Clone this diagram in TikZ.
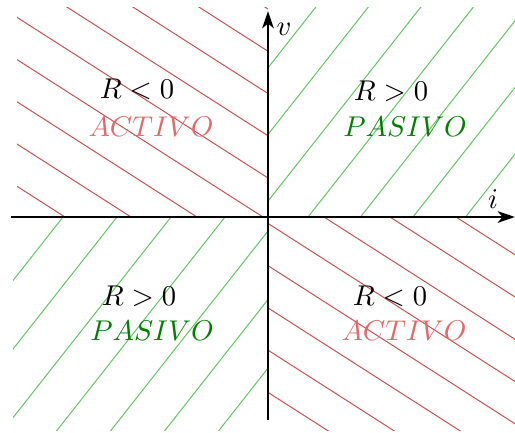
\documentclass[tikz,border=0pt]{standalone}
\usetikzlibrary{arrows.meta}
\definecolor{hatchred}{RGB}{205,80,80}
\definecolor{hatchgreen}{RGB}{95,200,95}
\definecolor{activored}{RGB}{228,105,105}
\definecolor{pasivogreen}{RGB}{0,128,0}
\tikzset{
  axisline/.style={line width=1pt,-{Stealth[length=6pt,width=4pt,inset=1.6pt]}},
  redhatch/.style={hatchred,line width=0.35pt},
  greenhatch/.style={hatchgreen,line width=0.35pt},
  rlabel/.style={anchor=base,inner sep=0pt,font=\fontsize{10.2}{12}\selectfont},
  activo/.style={anchor=base,inner sep=0pt,text=activored,font=\fontsize{10.3}{12}\selectfont},
  pasivo/.style={anchor=base,inner sep=0pt,text=pasivogreen,font=\fontsize{10.3}{12}\selectfont},
  axlabel/.style={inner sep=0pt,font=\fontsize{10}{12}\selectfont}
}
\begin{document}
\begin{tikzpicture}[x=0.35pt,y=-0.35pt]
\useasboundingbox (0,0) rectangle (515,432);
% top-left: red
\begin{scope}
  \clip (17,7) rectangle (268,217);
  \foreach \k in {-8,...,8}{
    \draw[redhatch] ({263+66*\k-400},{217-256}) -- ({263+66*\k+400},{217+256});
  }
\end{scope}
% bottom-right: red
\begin{scope}
  \clip (268,217) rectangle (515,430);
  \foreach \k in {-8,...,8}{
    \draw[redhatch] ({258+66*\k-400},{217-256}) -- ({258+66*\k+400},{217+256});
  }
\end{scope}
% top-right: green
\begin{scope}
  \clip (268,7) rectangle (515,217);
  \foreach \k in {-10,...,10}{
    \draw[greenhatch] ({308+52.5*\k-300},{217+381}) -- ({308+52.5*\k+300},{217-381});
  }
\end{scope}
% bottom-left: green
\begin{scope}
  \clip (13,217) rectangle (268,430);
  \foreach \k in {-10,...,10}{
    \draw[greenhatch] ({63+54*\k-300},{217+381}) -- ({63+54*\k+300},{217-381});
  }
\end{scope}
% axes
\coordinate (xs) at (11,217);
\coordinate (xe) at (515,217);
\coordinate (ys) at (268,420);
\coordinate (ye) at (268,11);
\draw[axisline] (xs) -- (xe);
\draw[axisline] (ys) -- (ye);
\node[axlabel] (vlab) at (284,29) {$v$};
\node[axlabel] (ilab) at (493,199) {$i$};
% labels
\node[rlabel] (tlR) at (137,98) {$R<0$};
\node[activo] (tlA) at (151,136.5) {$ACTIVO$};
\node[rlabel] (trR) at (391,100) {$R>0$};
\node[pasivo] (trP) at (405,136) {$PASIVO$};
\node[rlabel] (blR) at (139,305) {$R>0$};
\node[pasivo] (blP) at (152,340) {$PASIVO$};
\node[rlabel] (brR) at (390,305) {$R<0$};
\node[activo] (brA) at (404,340) {$ACTIVO$};
\end{tikzpicture}
\end{document}
